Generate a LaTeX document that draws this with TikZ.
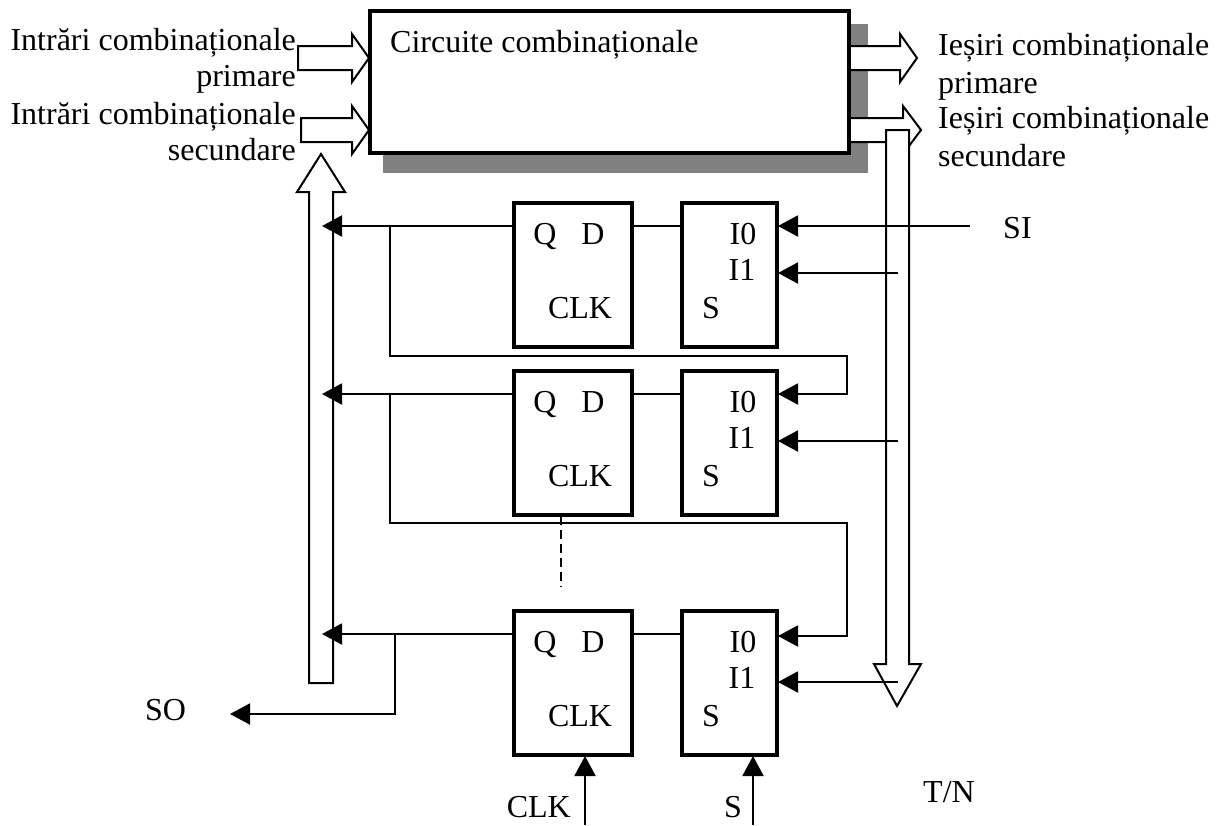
\documentclass[tikz,border=0pt]{standalone}
\usepackage{fontspec}
\setmainfont{Liberation Serif}
\usetikzlibrary{arrows.meta}
\tikzset{
  txt/.style={font=\fontsize{32}{36}\selectfont,inner sep=0pt,anchor=base},
  txtl/.style={txt,anchor=base west},
  txtr/.style={txt,anchor=base east},
  blockbox/.style={draw=black,line width=4pt,fill=white,minimum height=144pt,anchor=north west,inner sep=0pt,outer sep=0pt},
  wire/.style={draw=black,line width=2pt},
  arw/.style={wire,-{Triangle[length=20pt,width=21pt]}},
  bus/.style={draw=black,line width=2pt,fill=white,miter limit=10}
}
\begin{document}
\begin{tikzpicture}[x=1pt,y=-1pt]
\useasboundingbox (0,0) rectangle (1220,825);
% shadow
\fill[fill=black!50] (383,24) rectangle (868,173);
% output buses
\draw[bus] (845,46) -- (900,46) -- (900,34) -- (917,58) -- (900,82) -- (900,70) -- (845,70) -- cycle;
\draw[bus] (845,118) -- (903,118) -- (903,106) -- (921,130) -- (903,154) -- (903,142) -- (845,142) -- cycle;
% input buses
\draw[bus] (298,46) -- (352,46) -- (352,34) -- (369,58) -- (352,82) -- (352,70) -- (298,70) -- cycle;
\draw[bus] (301,118) -- (352,118) -- (352,106) -- (369,130) -- (352,154) -- (352,142) -- (301,142) -- cycle;
% main block
\node[draw=black,line width=4.6pt,fill=white,minimum width=479pt,minimum height=142pt,anchor=north west,inner sep=0pt,outer sep=0pt] (main) at (370,11) {};
\node[txtl] (maint) at (390,52) {Circuite combinaționale};
% vertical buses
\draw[bus] (309,683) -- (309,192) -- (297,192) -- (321,154) -- (345,192) -- (333,192) -- (333,683) -- cycle;
\draw[bus] (886,130) -- (909,130) -- (909,664) -- (921,664) -- (897,706) -- (874,664) -- (886,664) -- cycle;
% labels
\node[txtr] (l1) at (296,50) {Intrări combinaționale};
\node[txtr] (l2) at (296,86) {primare};
\node[txtr] (l3) at (296,124) {Intrări combinaționale};
\node[txtr] (l4) at (296,160) {secundare};
\node[txtl] (r1) at (938,55) {Ieșiri combinaționale};
\node[txtl] (r2) at (938,93) {primare};
\node[txtl] (r3) at (938,128) {Ieșiri combinaționale};
\node[txtl] (r4) at (938,166) {secundare};
\node[txtl] (si) at (1003,238) {SI};
\node[txtl] (so) at (145,720) {SO};
\node[txtl] (tn) at (923,802) {T/N};
\node[txtr] (clkl) at (571,817) {CLK};
\node[txtr] (sl) at (742,817) {S};
% rows
\foreach \r/\y/\k in {1/226/273,2/394/441,3/634/682}{
  \node[blockbox,minimum width=118pt] (ff\r) at (514,\y-24+1) {};
  \node[blockbox,minimum width=95pt] (mx\r) at (682,\y-24+1) {};
  \node[txt] (q\r) at (545,\y+18) {Q};
  \node[txt] (d\r) at (593,\y+18) {D};
  \node[txt] (c\r) at (580,\y+92) {CLK};
  \node[txt] (iz\r) at (743,\y+18) {I0};
  \node[txt] (io\r) at (742,\y+54) {I1};
  \node[txt] (s\r) at (711,\y+92) {S};
  \coordinate (qo\r) at (513,\y);
  \coordinate (bq\r) at (322,\y);
  \coordinate (dn\r) at (633,\y);
  \coordinate (mo\r) at (681,\y);
  \coordinate (iza\r) at (778,\y);
  \coordinate (ioa\r) at (778,\k);
  \coordinate (iob\r) at (898,\k);
  \draw[arw] (qo\r) -- (bq\r);
  \draw[wire] (dn\r) -- (mo\r);
  \draw[arw] (iob\r) -- (ioa\r);
}
% scan in
\coordinate (sie) at (970,226);
\draw[arw] (sie) -- (iza1);
% chains
\coordinate (t1) at (390,226);
\coordinate (t1b) at (390,356);
\coordinate (t1c) at (847,356);
\coordinate (t1d) at (847,394);
\draw[wire,line cap=rect] (t1) -- (t1b) -- (t1c) -- (t1d);
\draw[arw] (t1d) -- (iza2);
\coordinate (t2) at (390,394);
\coordinate (t2b) at (390,523);
\coordinate (t2c) at (847,523);
\coordinate (t2d) at (847,636);
\coordinate (t2e) at (778,636);
\draw[wire,line cap=rect] (t2) -- (t2b) -- (t2c) -- (t2d);
\draw[arw] (t2d) -- (t2e);
% scan out
\coordinate (t3) at (395,634);
\coordinate (t3b) at (395,714);
\coordinate (soe) at (230,714);
\draw[wire,line cap=rect] (t3) -- (t3b);
\draw[arw] (t3b) -- (soe);
% dashed
\coordinate (da) at (561,516);
\coordinate (db) at (561,587);
\draw[wire,dash pattern=on 9pt off 5pt] (da) -- (db);
% clk, s
\coordinate (ce) at (585,825);
\coordinate (ct) at (585,756);
\coordinate (se) at (753,825);
\coordinate (st) at (753,756);
\draw[arw] (ce) -- (ct);
\draw[arw] (se) -- (st);
\end{tikzpicture}
\end{document}
